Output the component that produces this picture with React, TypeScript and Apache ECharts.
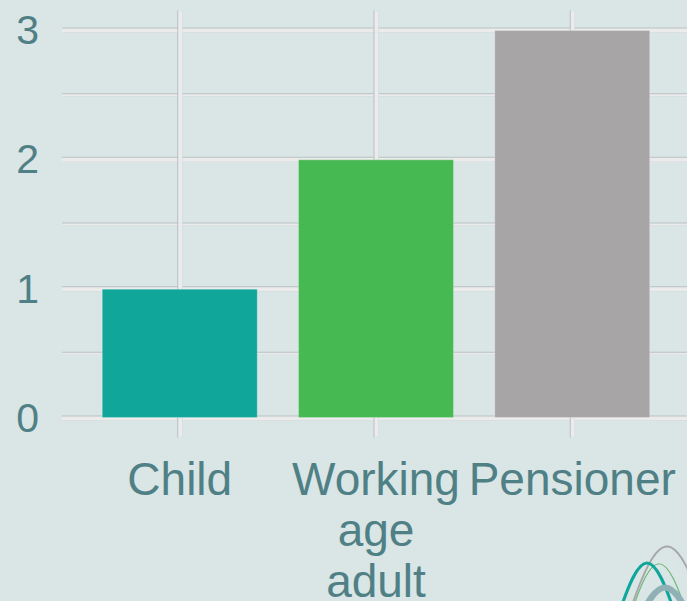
import React, { useEffect, useRef } from "react";
import * as echarts from "echarts";

const categories = ["Child", "Working\nage\nadult", "Pensioner"];
const values = [1, 2, 3];
const barColors = ["#10a69a", "#47b953", "#a7a5a6"];
const yMajor = [0, 1, 2, 3];
const yMinor = [0.5, 1.5, 2.5];
const xPositions = [1, 2, 3];

const X_MIN = 0.4;
const X_MAX = 3.6;
const Y_MIN = -0.15;
const Y_MAX = 3.15;

const BG = "#dae5e6";
const TEXT = "#4f8085";
const GRID_LIGHT = "#ebebeb";
const GRID_DARK = "#b7c1c2";

function gridLineItem(x1: number, y1: number, x2: number, y2: number, major: boolean, horizontal: boolean) {
  const w = major ? 5 : 3;
  const off = 0.5;
  return {
    type: "group",
    children: [
      { type: "line", shape: { x1, y1, x2, y2 }, style: { stroke: GRID_DARK, lineWidth: w } },
      {
        type: "line",
        shape: horizontal
          ? { x1, y1: y1 + off, x2, y2: y2 + off }
          : { x1: x1 + off, y1, x2: x2 + off, y2 },
        style: { stroke: GRID_LIGHT, lineWidth: w - 1 },
      },
    ],
  };
}

export default function App() {
  const ref = useRef<HTMLDivElement>(null);
  useEffect(() => {
    document.body.style.margin = "0";
    document.body.style.background = BG;
    const chart = echarts.init(ref.current!, undefined, { renderer: "svg" });
    const hData = [
      ...yMajor.map((v) => [X_MIN, v, 1]),
      ...yMinor.map((v) => [X_MIN, v, 0]),
    ];
    const vData = xPositions.map((v) => [v, Y_MIN, 1]);
    const option: any = {
      animation: false,
      backgroundColor: BG,
      grid: {
        left: 62,
        top: 10.6,
        width: 628,
        height: 426.8,
        containLabel: false,
        outerBoundsMode: "none",
      },
      xAxis: {
        type: "value",
        min: X_MIN,
        max: X_MAX,
        axisLine: { show: false },
        axisTick: { show: false },
        splitLine: { show: false },
        axisLabel: {
          customValues: xPositions,
          formatter: (v: number) => categories[Math.round(v) - 1] ?? "",
          color: TEXT,
          fontSize: 46,
          lineHeight: 51,
          fontFamily: "Liberation Sans, Arial, sans-serif",
          margin: 16,
          showMinLabel: true,
          showMaxLabel: true,
        },
      },
      yAxis: {
        type: "value",
        min: Y_MIN,
        max: Y_MAX,
        axisLine: { show: false },
        axisTick: { show: false },
        splitLine: { show: false },
        axisLabel: {
          customValues: yMajor,
          color: TEXT,
          fontSize: 41,
          fontFamily: "Liberation Sans, Arial, sans-serif",
          margin: 23,
        },
      },
      series: [
        {
          type: "custom",
          z: 0,
          silent: true,
          data: hData,
          encode: { x: 0, y: 1 },
          renderItem: (params: any, api: any) => {
            const cs = params.coordSys;
            const p = api.coord([api.value(0), api.value(1)]);
            return gridLineItem(cs.x, p[1], cs.x + cs.width, p[1], api.value(2) === 1, true);
          },
        },
        {
          type: "custom",
          z: 0,
          silent: true,
          data: vData,
          encode: { x: 0, y: 1 },
          renderItem: (params: any, api: any) => {
            const cs = params.coordSys;
            const p = api.coord([api.value(0), api.value(1)]);
            return gridLineItem(p[0], cs.y, p[0], cs.y + cs.height, true, false);
          },
        },
        {
          type: "bar",
          z: 2,
          barWidth: 156,
          data: values.map((v, i) => ({
            value: [xPositions[i], v],
            itemStyle: { color: barColors[i], borderColor: "rgba(255,255,255,0.25)", borderWidth: 1 },
          })),
        },
      ],
      graphic: [
        {
          type: "bezierCurve",
          z: 10,
          shape: { x1: 627, y1: 620, x2: 707, y2: 620, cpx1: 659, cpy1: 522, cpx2: 675, cpy2: 522 },
          style: { stroke: "#a8a8a8", lineWidth: 2, fill: null },
        },
        {
          type: "bezierCurve",
          z: 10,
          shape: { x1: 629, y1: 620, x2: 689, y2: 620, cpx1: 653, cpy1: 545, cpx2: 665, cpy2: 545 },
          style: { stroke: "#6db878", lineWidth: 1.2, fill: null },
        },
        {
          type: "bezierCurve",
          z: 11,
          shape: { x1: 617, y1: 620, x2: 677, y2: 620, cpx1: 641, cpy1: 544, cpx2: 653, cpy2: 544 },
          style: { stroke: "#10a69a", lineWidth: 3, fill: null },
        },
        {
          type: "bezierCurve",
          z: 12,
          shape: { x1: 635, y1: 628, x2: 695, y2: 628, cpx1: 659, cpy1: 574, cpx2: 671, cpy2: 574 },
          style: { stroke: "#8fb0b5", lineWidth: 6, fill: null },
        },
      ],
    };
    chart.setOption(option);
    return () => chart.dispose();
  }, []);
  return (
    <div
      ref={ref}
      style={{ position: "absolute", left: 0, top: 0, width: 687, height: 601 }}
    />
  );
}
